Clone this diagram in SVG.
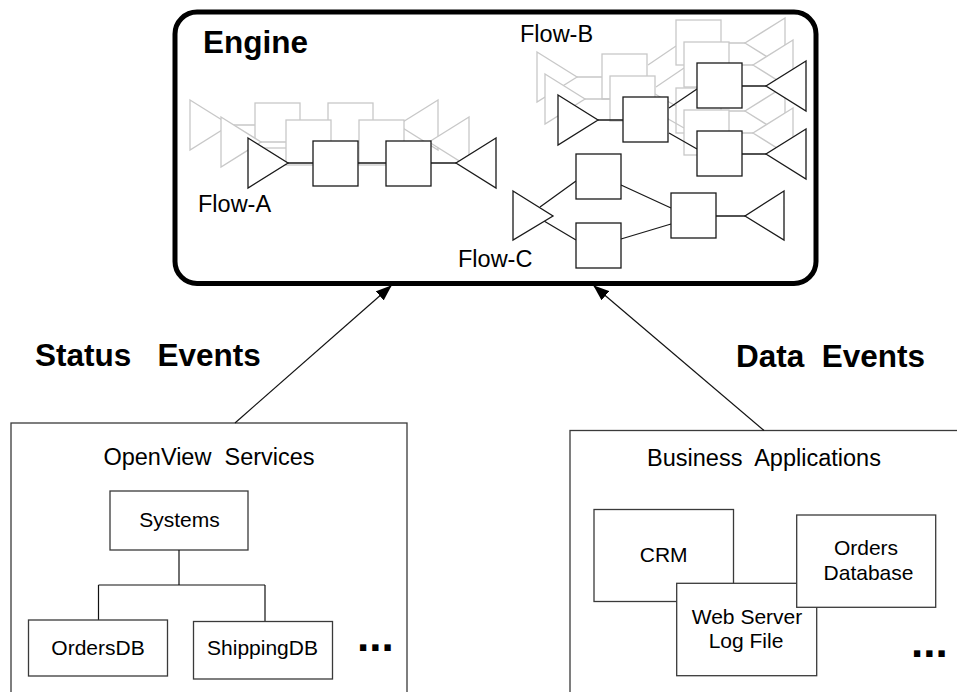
<svg xmlns="http://www.w3.org/2000/svg" xmlns:xlink="http://www.w3.org/1999/xlink" width="957" height="692" viewBox="0 0 957 692">
<style>
text{font-family:"Liberation Sans",Arial,sans-serif;fill:#000}
.bold{font-weight:bold;font-size:31.5px}
.title{font-size:23.5px}
.lbl{font-size:21px}
.mid{text-anchor:middle}
.dots{font-weight:bold;font-size:44px}
.box{fill:#fff;stroke:#3a3a3a;stroke-width:1.3}
.ink{stroke:#1a1a1a;stroke-width:1.3}
.ghost{stroke:#c8c8c8;stroke-width:1.3}
.shp{fill:#fff}
.conn{stroke:#111;stroke-width:1.2;fill:none}
</style>
<defs>
<marker id="ah" markerUnits="userSpaceOnUse" markerWidth="16" markerHeight="12" refX="15" refY="6" orient="auto">
<path d="M0,0 L16,6 L0,12 Z" fill="#000"/>
</marker>
<g id="flowA-shape">
<path d="M288,163H313M358,163H386M431,163H456" fill="none"/>
<polygon class="shp" points="248,138 288,163 248,188"/>
<rect class="shp" x="313" y="141" width="45" height="45"/>
<rect class="shp" x="386" y="141" width="45" height="45"/>
<polygon class="shp" points="496,138 456,163 496,188"/>
</g>
<g id="flowB-shape">
<path d="M598,120H623M669,108L697,89M669,133L697,149M742,86H766M742,154H766" fill="none"/>
<polygon class="shp" points="558,95 598,120 558,145"/>
<rect class="shp" x="623" y="97" width="45" height="45"/>
<rect class="shp" x="697" y="63" width="45" height="45"/>
<rect class="shp" x="697" y="131" width="45" height="45"/>
<polygon class="shp" points="806,61 766,86 806,111"/>
<polygon class="shp" points="806,129 766,154 806,179"/>
</g>
</defs>
<rect width="957" height="692" fill="#fff"/>

<g id="engine">
<rect x="175" y="12" width="641" height="271.5" rx="22" ry="22" fill="#fff" stroke="#000" stroke-width="5"/>
<text class="bold" x="203" y="53">Engine</text>
</g>

<g id="flow-a">
<use xlink:href="#flowA-shape" href="#flowA-shape" class="ghost" transform="translate(-58,-38)"/>
<use xlink:href="#flowA-shape" href="#flowA-shape" class="ghost" transform="translate(-27,-21)"/>
<use xlink:href="#flowA-shape" href="#flowA-shape" class="ink"/>
<text class="title" x="198" y="212">Flow-A</text>
</g>

<g id="flow-b">
<use xlink:href="#flowB-shape" href="#flowB-shape" class="ghost" transform="translate(-21,-43)"/>
<use xlink:href="#flowB-shape" href="#flowB-shape" class="ghost" transform="translate(-13,-21)"/>
<use xlink:href="#flowB-shape" href="#flowB-shape" class="ink"/>
<text class="title" x="520" y="42">Flow-B</text>
</g>

<g id="flow-c" class="ink">
<path d="M540,207L576,181M544,221L576,240M621,185L671,208M621,239L671,224M716,216H745" fill="none"/>
<polygon class="shp" points="513,191 553,216 513,240"/>
<rect class="shp" x="576" y="154" width="45" height="45"/>
<rect class="shp" x="576" y="223" width="45" height="45"/>
<rect class="shp" x="671" y="193" width="45" height="45"/>
<polygon class="shp" points="784,191 745,216 784,240"/>
<text class="title" x="458" y="267" stroke="none">Flow-C</text>
</g>

<g id="labels">
<text class="bold" x="35" y="366" xml:space="preserve">Status   Events</text>
<text class="bold" x="736" y="367" xml:space="preserve">Data  Events</text>
</g>

<g id="openview">
<rect class="box" x="11" y="423" width="396" height="320"/>
<text class="title mid" x="209" y="465" xml:space="preserve">OpenView  Services</text>
<g id="systems">
<rect class="box" x="110" y="491" width="138" height="59"/>
<text class="lbl mid" x="179.5" y="527">Systems</text>
</g>
<path class="conn" d="M179,550V585M98.5,585H265M98.5,585V620M265,585V621.5" stroke="#3a3a3a"/>
<g id="ordersdb">
<rect class="box" x="28.5" y="620" width="139" height="56"/>
<text class="lbl mid" x="98" y="655">OrdersDB</text>
</g>
<g id="shippingdb">
<rect class="box" x="193.5" y="621.5" width="139" height="57.5"/>
<text class="lbl mid" x="262.5" y="655">ShippingDB</text>
</g>
<text class="dots" x="357" y="651">...</text>
</g>

<g id="business">
<rect class="box" x="570" y="430.5" width="420" height="320"/>
<text class="title mid" x="764" y="466" xml:space="preserve">Business  Applications</text>
<g id="crm">
<rect class="box" x="594" y="509.5" width="139.5" height="92"/>
<text class="lbl mid" x="663.7" y="562">CRM</text>
</g>
<g id="weblog">
<rect class="box" x="676.7" y="583.3" width="140" height="92.4"/>
<text class="lbl mid" x="747" y="624">Web Server</text>
<text class="lbl mid" x="746" y="648">Log File</text>
</g>
<g id="ordersdatabase">
<rect class="box" x="796.7" y="515" width="139" height="92.3"/>
<text class="lbl mid" x="866" y="555">Orders</text>
<text class="lbl mid" x="868.5" y="580">Database</text>
</g>
<text class="dots" x="911" y="657">...</text>
</g>

<g id="connectors">
<line class="conn" x1="235" y1="423" x2="391" y2="286" marker-end="url(#ah)"/>
<line class="conn" x1="764" y1="430.5" x2="594" y2="286" marker-end="url(#ah)"/>
</g>
</svg>
